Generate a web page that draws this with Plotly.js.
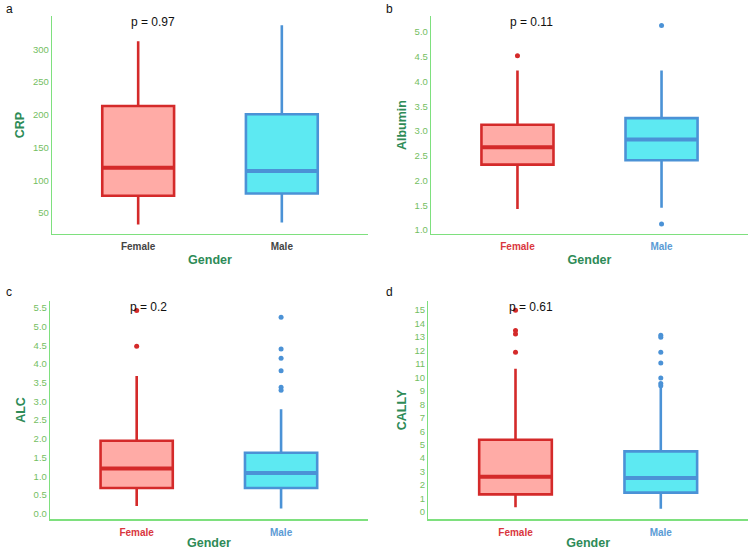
<!DOCTYPE html>
<html>
<head>
<meta charset="utf-8">
<script src="https://cdn.plot.ly/plotly-3.0.1.min.js"></script>
<style>html,body{margin:0;padding:0;background:#fff;}#chart{width:750px;height:550px;}</style>
</head>
<body>
<div id="chart"></div>
<script>
// ---- Data ----
const genders = ['Female', 'Male'];

const crpQ1 = [76.5, 80];
const crpMedian = [119.3, 114.2];
const crpQ3 = [213.6, 201];
const crpLower = [32.7, 35.8];
const crpUpper = [312.5, 337];
const crpOutFemale = [];
const crpOutMale = [];
const crpTicks = [50, 100, 150, 200, 250, 300];

const albQ1 = [2.32, 2.41];
const albMedian = [2.67, 2.83];
const albQ3 = [3.125, 3.26];
const albLower = [1.425, 1.45];
const albUpper = [4.22, 4.22];
const albOutFemale = [4.52];
const albOutMale = [5.13, 1.12];
const albTicks = [1.0, 1.5, 2.0, 2.5, 3.0, 3.5, 4.0, 4.5, 5.0];

const alcQ1 = [0.685, 0.685];
const alcMedian = [1.21, 1.086];
const alcQ3 = [1.95, 1.63];
const alcLower = [0.205, 0.14];
const alcUpper = [3.68, 2.79];
const alcOutFemale = [4.47, 5.43];
const alcOutMale = [5.25, 4.40, 4.15, 3.82, 3.38, 3.30];
const alcTicks = [0.0, 0.5, 1.0, 1.5, 2.0, 2.5, 3.0, 3.5, 4.0, 4.5, 5.0, 5.5];

const callyQ1 = [1.31, 1.44];
const callyMedian = [2.62, 2.52];
const callyQ3 = [5.37, 4.5];
const callyLower = [0.35, 0.25];
const callyUpper = [10.64, 9.26];
const callyOutFemale = [14.98, 13.47, 13.22, 11.86];
const callyOutMale = [13.12, 12.97, 11.86, 11.06, 9.95, 9.55, 9.38];
const callyTicks = [0, 1, 2, 3, 4, 5, 6, 7, 8, 9, 10, 11, 12, 13, 14, 15];

const pValues = ['p = 0.97', 'p = 0.11', 'p = 0.2', 'p = 0.61'];
const pY = [342, 5.2, 5.51, 15.2];
const panelLetters = ['a', 'b', 'c', 'd'];
const yTitles = ['CRP', 'Albumin', 'ALC', 'CALLY'];

// ---- Styles ----
const lineCol = ['#D42A2A', '#4B92D6'];
const fillCol = ['#FFABA6', '#5DE9F2'];
const axisLineCol = '#7EE07E';
const tickCol = '#74BE62';
const titleCol = '#2E8B57';
const FONT = 'Liberation Sans, Arial, sans-serif';

const panels = [
  {q1: crpQ1, med: crpMedian, q3: crpQ3, lo: crpLower, hi: crpUpper, outF: crpOutFemale, outM: crpOutMale,
   ticks: crpTicks, range: [18, 351], fmt: '', xd: [0.0693, 0.4907], yd: [0.5745, 0.9709], plainX: true},
  {q1: albQ1, med: albMedian, q3: albQ3, lo: albLower, hi: albUpper, outF: albOutFemale, outM: albOutMale,
   ticks: albTicks, range: [0.92, 5.32], fmt: '.1f', xd: [0.5747, 0.9973], yd: [0.5745, 0.9709]},
  {q1: alcQ1, med: alcMedian, q3: alcQ3, lo: alcLower, hi: alcUpper, outF: alcOutFemale, outM: alcOutMale,
   ticks: alcTicks, range: [-0.15, 5.69], fmt: '.1f', xd: [0.0667, 0.4903], yd: [0.0558, 0.4533]},
  {q1: callyQ1, med: callyMedian, q3: callyQ3, lo: callyLower, hi: callyUpper, outF: callyOutFemale, outM: callyOutMale,
   ticks: callyTicks, range: [-0.54, 15.69], fmt: '', xd: [0.5711, 0.9973], yd: [0.0558, 0.4533]}
];

const traces = [];
const layout = {
  width: 750, height: 550,
  margin: {l: 0, r: 0, t: 0, b: 0},
  paper_bgcolor: '#fff', plot_bgcolor: '#fff',
  showlegend: false,
  boxmode: 'overlay',
  font: {family: FONT},
  annotations: []
};

panels.forEach((p, k) => {
  const n = k + 1;
  const xa = 'x' + (n === 1 ? '' : n);
  const ya = 'y' + (n === 1 ? '' : n);
  const xKey = 'xaxis' + (n === 1 ? '' : n);
  const yKey = 'yaxis' + (n === 1 ? '' : n);

  genders.forEach((g, i) => {
    traces.push({
      type: 'box', x: [g], q1: [p.q1[i]], median: [p.med[i]], q3: [p.q3[i]],
      lowerfence: [p.lo[i]], upperfence: [p.hi[i]],
      width: 0.5, whiskerwidth: 0, boxpoints: false,
      fillcolor: fillCol[i], line: {color: lineCol[i], width: 2.6},
      xaxis: xa, yaxis: ya, hoverinfo: 'skip'
    });
    // thicker median bar
    traces.push({
      type: 'box', x: [g], q1: [p.med[i]], median: [p.med[i]], q3: [p.med[i]],
      lowerfence: [p.med[i]], upperfence: [p.med[i]],
      width: 0.49, whiskerwidth: 0, boxpoints: false,
      fillcolor: 'rgba(0,0,0,0)', line: {color: lineCol[i], width: 4},
      xaxis: xa, yaxis: ya, hoverinfo: 'skip'
    });
    const outs = i === 0 ? p.outF : p.outM;
    if (outs.length) {
      traces.push({
        type: 'scatter', mode: 'markers', x: outs.map(() => g), y: outs,
        marker: {color: lineCol[i], size: 5},
        xaxis: xa, yaxis: ya, hoverinfo: 'skip'
      });
    }
  });

  const tickText = p.plainX
    ? genders.map(g => '<b>' + g + '</b>')
    : genders.map((g, i) => '<span style="color:' + (i === 0 ? '#D9363E' : '#5B9BD5') + '"><b>' + g + '</b></span>');

  layout[xKey] = {
    domain: p.xd, anchor: ya, type: 'category', range: [-0.6, 1.6],
    showline: true, linecolor: axisLineCol, linewidth: 1.3, showgrid: false, zeroline: false,
    ticks: '', tickmode: 'array', tickvals: genders, ticktext: tickText, ticklabelstandoff: 3,
    tickfont: {size: 10, color: '#444', family: FONT},
    title: {text: '<b>Gender</b>', font: {size: 12.5, color: titleCol, family: FONT}, standoff: 4},
    automargin: false, fixedrange: true
  };
  layout[yKey] = {
    domain: p.yd, anchor: xa, range: p.range,
    showline: true, linecolor: axisLineCol, linewidth: 1.3, showgrid: false, zeroline: false,
    ticks: '', tickmode: 'array', tickvals: p.ticks, tickformat: p.fmt,
    tickfont: {size: 9.5, color: tickCol, family: FONT},
    title: {text: '<b>' + yTitles[k] + '</b>', font: {size: 12.5, color: titleCol, family: FONT}, standoff: 5},
    automargin: false, fixedrange: true
  };

  layout.annotations.push({
    xref: xa, yref: ya, x: genders[0], y: pY[k], text: pValues[k],
    xanchor: 'left', yanchor: 'middle', xshift: -9, showarrow: false,
    font: {size: 12, color: '#111', family: FONT}
  });
  layout.annotations.push({
    xref: 'paper', yref: 'paper',
    x: (k % 2 === 0 ? 4 : 384) / 750, y: 1 - (k < 2 ? 0 : 283) / 550,
    text: panelLetters[k], xanchor: 'left', yanchor: 'top', showarrow: false,
    font: {size: 12, color: '#111', family: FONT}
  });
});

Plotly.newPlot('chart', traces, layout, {staticPlot: true, displayModeBar: false});
</script>
</body>
</html>
